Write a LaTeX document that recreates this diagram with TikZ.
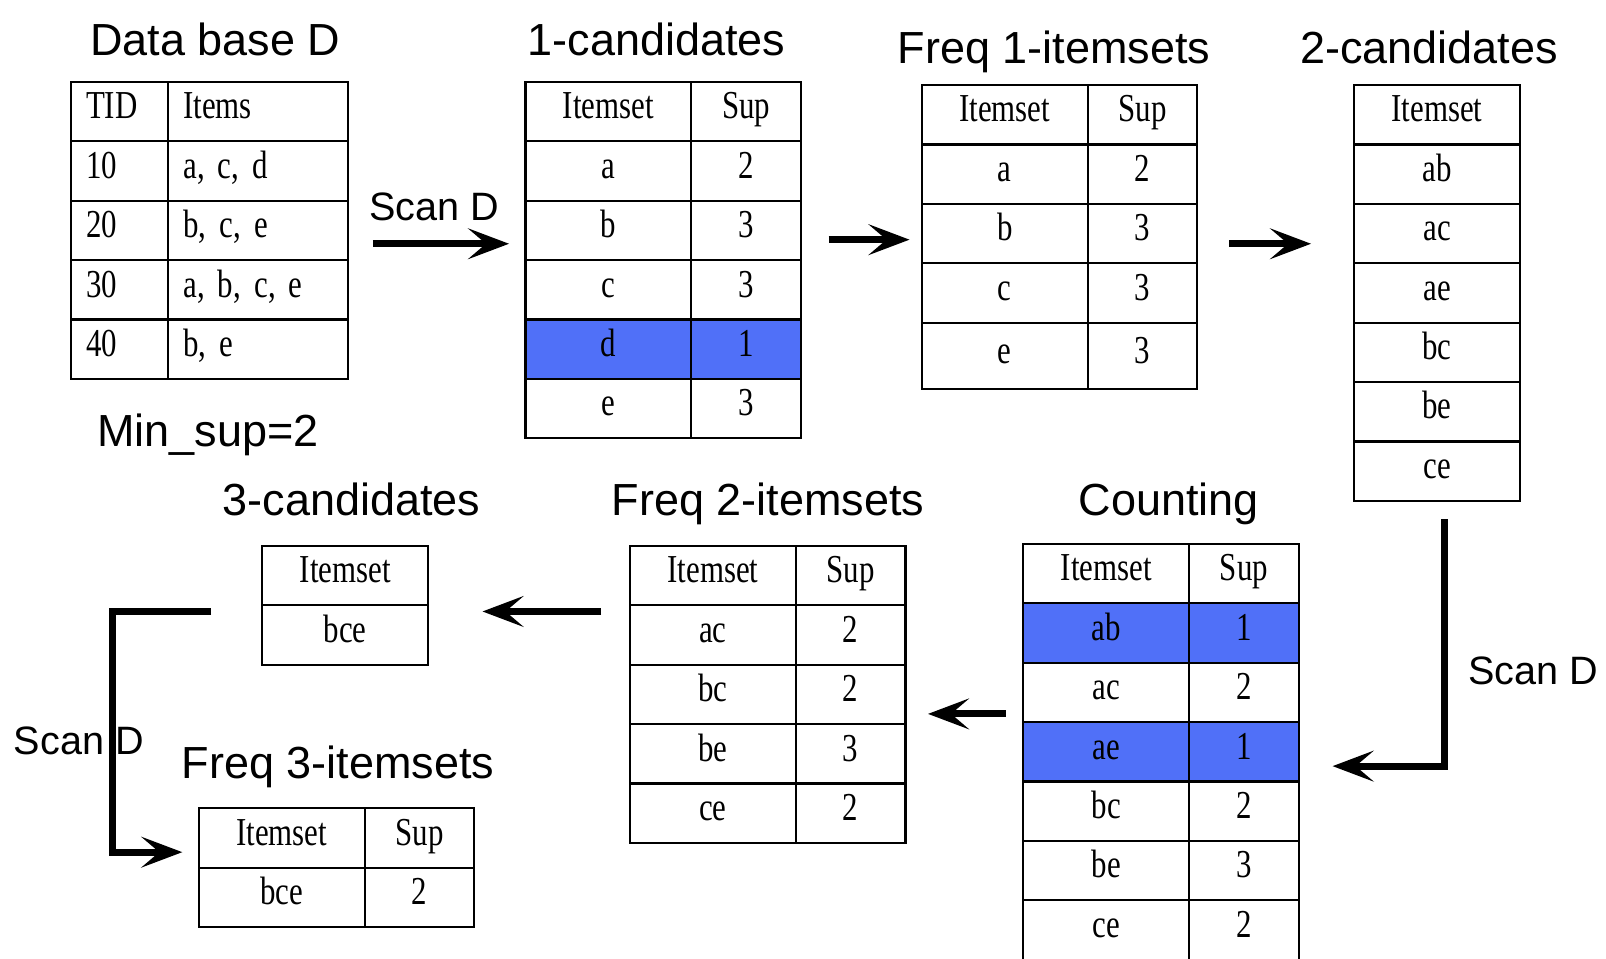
\documentclass[tikz,border=0pt]{standalone}
\usepackage{fontspec}
\setmainfont{Liberation Serif}
\newfontfamily\cellfont[FakeStretch=0.78,WordSpace=0.6]{Liberation Serif}
\newfontfamily\headfont{Liberation Sans}
\usetikzlibrary{matrix,arrows.meta}
\definecolor{lowsup}{RGB}{80,112,248}

\begin{document}
\begin{tikzpicture}[x=0.02cm,y=-0.02cm]

    \tikzstyle{tbl} = [matrix of nodes, anchor=north west, inner sep=0pt, outer sep=0pt,
        column sep=-1.2pt, row sep=-1.2pt,
        nodes={draw, line width=1.2pt, minimum height=1.16cm, inner sep=0pt,
            text height=16pt, text depth=8pt, font=\cellfont\fontsize{22}{22}\selectfont},
        column 1/.style={nodes={minimum width=3.24cm}},
        column 2/.style={nodes={minimum width=2.14cm}}]
    \tikzstyle{ttl} = [anchor=base, inner sep=0pt, font=\headfont\fontsize{25}{25}\selectfont]
    \tikzstyle{scan} = [anchor=base, inner sep=0pt, font=\headfont\fontsize{22}{22}\selectfont]
    \tikzstyle{flow} = [line width=4pt, -{Stealth[length=0.8cm,width=0.6cm,inset=0.35cm]}]

    \useasboundingbox (0,0) rectangle (1568,936);
    \fill[white] (0,0) rectangle (1568,936);

    % Tables
    \matrix (db) [tbl,
        column 1/.style={nodes={minimum width=1.9cm, text width=1.3cm, inner xsep=0.3cm, align=left}},
        column 2/.style={nodes={minimum width=3.52cm, text width=2.92cm, inner xsep=0.3cm, align=left}}]
        at (68,79) {
        TID & Items \\
        10 & a, c, d \\
        20 & b, c, e \\
        30 & a, b, c, e \\
        40 & b, e \\
    };
    \matrix (cand1) [tbl, row 5/.style={nodes={fill=lowsup}}] at (512,79) {
        Itemset & Sup \\
        a & 2 \\
        b & 3 \\
        c & 3 \\
        d & 1 \\
        e & 3 \\
    };
    \matrix (freq1) [tbl, row 5/.style={nodes={minimum height=1.3cm}}] at (899,82) {
        Itemset & Sup \\
        a & 2 \\
        b & 3 \\
        c & 3 \\
        e & 3 \\
    };
    \matrix (cand2) [tbl] at (1321,82) {
        Itemset \\
        ab \\
        ac \\
        ae \\
        bc \\
        be \\
        ce \\
    };
    \matrix (count) [tbl, row 2/.style={nodes={fill=lowsup}}, row 4/.style={nodes={fill=lowsup}}] at (998,530) {
        Itemset & Sup \\
        ab & 1 \\
        ac & 2 \\
        ae & 1 \\
        bc & 2 \\
        be & 3 \\
        ce & 2 \\
    };
    \matrix (freq2) [tbl] at (614,532) {
        Itemset & Sup \\
        ac & 2 \\
        bc & 2 \\
        be & 3 \\
        ce & 2 \\
    };
    \matrix (cand3) [tbl] at (255,532) {
        Itemset \\
        bce \\
    };
    \matrix (freq3) [tbl] at (193,788) {
        Itemset & Sup \\
        bce & 2 \\
    };

    % Titles
    \node[ttl] (t-db) at (210,54) {Data base D};
    \node[ttl] (t-cand1) at (641,54) {1-candidates};
    \node[ttl] (t-freq1) at (1029,62) {Freq 1-itemsets};
    \node[ttl] (t-cand2) at (1395,62) {2-candidates};
    \node[ttl] (t-count) at (1141,503) {Counting};
    \node[ttl] (t-freq2) at (750,503) {Freq 2-itemsets};
    \node[ttl] (t-cand3) at (343,503) {3-candidates};
    \node[ttl] (t-freq3) at (330,760) {Freq 3-itemsets};
    \node[ttl] (minsup) at (203,436) {Min\_sup=2};

    % Scan labels
    \node[scan] (scan-a) at (424,215) {Scan D};
    \node[scan] (scan-b) at (1497,668) {Scan D};
    \node[scan] (scan-c) at (77,737) {Scan D};

    % Arrows
    \coordinate (s1) at (430,238);
    \coordinate (s2) at (845,234);
    \coordinate (s3) at (1240,238);
    \coordinate (s4) at (1410,748);
    \coordinate (s5) at (940,697);
    \coordinate (s6) at (520,597);
    \coordinate (s7a) at (110,597);
    \coordinate (s7b) at (110,832);
    \draw[flow, shorten <=0.46cm, shorten >=0.3cm] (db.east |- s1) -- (cand1.west |- s1);
    \draw[flow, shorten <=0.52cm, shorten >=0.22cm] (cand1.east |- s2) -- (freq1.west |- s2);
    \draw[flow, shorten <=0.6cm, shorten >=0.82cm] (freq1.east |- s3) -- (cand2.west |- s3);
    \draw[flow, shorten <=0.34cm, shorten >=0.64cm] (cand2.south -| s4) -- (s4) -- (count.east |- s4);
    \draw[flow, shorten <=0.32cm, shorten >=0.42cm] (count.west |- s5) -- (freq2.east |- s5);
    \draw[flow, shorten <=0.54cm, shorten >=1.04cm] (freq2.west |- s6) -- (cand3.east |- s6);
    \draw[flow, shorten <=0.98cm, shorten >=0.3cm] (cand3.west |- s7a) -- (s7a) -- (s7b) -- (freq3.west |- s7b);

\end{tikzpicture}
\end{document}
